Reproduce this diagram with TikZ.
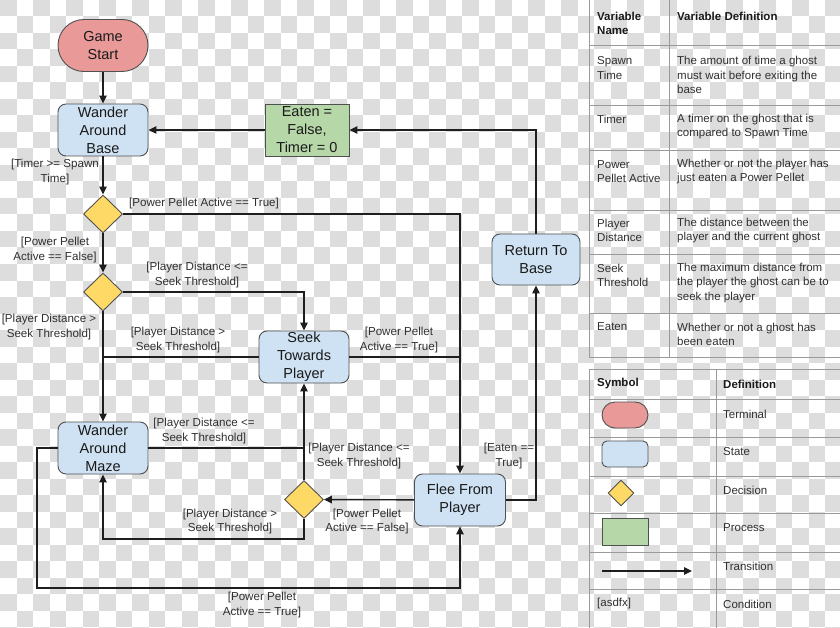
\documentclass[tikz,border=0pt]{standalone}
\usepackage{fontspec}
\setmainfont{Liberation Sans}
\usetikzlibrary{shapes.geometric,arrows.meta}
\definecolor{cbgray}{HTML}{DDDDDD}
\definecolor{termc}{HTML}{EA9999}
\definecolor{statec}{HTML}{CFE2F3}
\definecolor{decc}{HTML}{FFD966}
\definecolor{procc}{HTML}{B6D7A8}
\definecolor{bordc}{HTML}{505050}
\definecolor{linec}{HTML}{1E1E1E}
\definecolor{txt}{HTML}{1A1A1A}
\definecolor{lblc}{HTML}{303030}
\definecolor{tabl}{HTML}{9A9A9A}
\begin{document}
\begin{tikzpicture}[x=1pt,y=-1pt,
  nodebase/.style={draw=bordc, line width=0.9pt, inner sep=0pt, align=center, text=txt, font=\fontsize{14.5}{18}\selectfont},
  terminal/.style={nodebase, fill=termc, rounded corners=26pt, minimum width=90pt, minimum height=52pt},
  statebox/.style={nodebase, fill=statec, rounded corners=8pt, minimum width=90pt, minimum height=52pt},
  decision/.style={nodebase, diamond, aspect=1, fill=decc, minimum width=39pt, minimum height=38pt},
  process/.style={nodebase, fill=procc, minimum width=84pt, minimum height=52pt},
  arr/.style={draw=linec, line width=1.4pt, -{Triangle[length=8pt,width=7.5pt]}},
  ln/.style={draw=linec, line width=1.4pt},
  lbl/.style={font=\fontsize{11.6}{14.5}\selectfont, text=lblc, align=center, inner sep=0pt},
  tt/.style={font=\fontsize{11.5}{14.5}\selectfont, text=lblc, align=left, inner sep=0pt, anchor=west},
  th/.style={tt, font=\fontsize{11.5}{14.5}\selectfont\bfseries, text=txt},
  tline/.style={draw=tabl, line width=0.8pt}
]
\useasboundingbox (0,0) rectangle (840,628);
% checkerboard background
\begin{scope}
\clip (0,0) rectangle (840,628);
\fill[white] (0,0) rectangle (840,628);
\foreach \r in {0,...,38}{
  \pgfmathtruncatemacro\s{mod(\r,2)}
  \pgfmathtruncatemacro\t{\s+2}
  \foreach \c in {\s,\t,...,51}{
    \fill[cbgray] (\c*16.5,\r*16.5) rectangle ++(16.5,16.5);
  }
}
\end{scope}

% ---------- nodes ----------
\node[terminal] (start) at (103,45.5) {Game\\Start};
\node[statebox] (wbase) at (103,130) {Wander\\Around\\Base};
\node[process] (eaten) at (307,130) {Eaten =\\False,\\Timer = 0};
\node[statebox, minimum width=88pt, minimum height=51pt] (ret) at (536,259.5) {Return To\\Base};
\node[decision] (d1) at (103,214) {};
\node[decision] (d2) at (103,292) {};
\node[statebox] (seek) at (304,357) {Seek\\Towards\\Player};
\node[statebox] (wmaze) at (103,448) {Wander\\Around\\Maze};
\node[statebox, minimum width=91pt] (flee) at (460,500) {Flee From\\Player};
\node[decision] (d3) at (304,499.5) {};
\coordinate (lp) at (103,539);
\coordinate (b1) at (37,588);

% ---------- connectors ----------
\draw[arr] (start) -- (wbase);
\draw[arr] (eaten) -- (wbase);
\draw[arr] (ret.north) |- (eaten.east);
\draw[arr] (wbase) -- (d1);
\draw[arr] (d1.east) -| (flee.north);
\draw[arr] (d1) -- (d2);
\draw[arr] (d2.east) -| (seek.north);
\draw[arr] (d2) -- (wmaze);
\draw[ln] (seek.west) -- (seek.west -| d2.south);
\draw[ln] (seek.east) -- (seek.east -| flee.north);
\draw[ln] (wmaze.east) -- (wmaze.east -| d3.north);
\draw[arr] (d3) -- (seek);
\draw[arr] (d3.south) |- (lp) -- (wmaze.south);
\draw[arr] (flee) -- (d3);
\draw[arr] (wmaze.west) -| (b1) -| (flee.south);
\draw[arr] (flee.east) -| (ret.south);

% ---------- labels ----------
\node[lbl] (l1) at (55,172) {[Timer >= Spawn\\Time]};
\node[lbl] (l2) at (204,203.5) {[Power Pellet Active == True]};
\node[lbl] (l3) at (55,250) {[Power Pellet\\Active == False]};
\node[lbl] (l4) at (197,275) {[Player Distance <=\\Seek Threshold]};
\node[lbl] (l5) at (49,327) {[Player Distance >\\Seek Threshold]};
\node[lbl] (l6) at (178,340) {[Player Distance >\\Seek Threshold]};
\node[lbl] (l7) at (399,340) {[Power Pellet\\Active == True]};
\node[lbl] (l8) at (204,431) {[Player Distance <=\\Seek Threshold]};
\node[lbl] (l9) at (359,456) {[Player Distance <=\\Seek Threshold]};
\node[lbl] (l10) at (509,456) {[Eaten ==\\True]};
\node[lbl] (l11) at (230,521.5) {[Player Distance >\\Seek Threshold]};
\node[lbl] (l12) at (367,521.5) {[Power Pellet\\Active == False]};
\node[lbl] (l13) at (262,605) {[Power Pellet\\Active == True]};

% ---------- variable table ----------
\draw[tline] (589,0) -- (589,357.5) -- (840,357.5);
\draw[tline] (669,0) -- (669,357.5);
\foreach \yy in {45,105,150,210,254,313}{
  \draw[tline] (589,\yy) -- (840,\yy);
}
\node[th] (h1) at (597,23.5) {Variable\\Name};
\node[th] (h2) at (677,16) {Variable Definition};
\node[tt] (n1) at (597,68) {Spawn\\Time};
\node[tt] (e1) at (677,75) {The amount of time a ghost\\must wait before exiting the\\base};
\node[tt] (n2) at (597,119) {Timer};
\node[tt] (e2) at (677,126.5) {A timer on the ghost that is\\compared to Spawn Time};
\node[tt] (n3) at (597,171.5) {Power\\Pellet Active};
\node[tt] (e3) at (677,171.5) {Whether or not the player has\\just eaten a Power Pellet};
\node[tt] (n4) at (597,230.5) {Player\\Distance};
\node[tt] (e4) at (677,230.5) {The distance between the\\player and the current ghost};
\node[tt] (n5) at (597,275.5) {Seek\\Threshold};
\node[tt] (e5) at (677,283) {The maximum distance from\\the player the ghost can be to\\seek the player};
\node[tt] (n6) at (597,327) {Eaten};
\node[tt] (e6) at (677,334.5) {Whether or not a ghost has\\been eaten};

% ---------- legend table ----------
\draw[tline] (840,369) -- (589,369) -- (589,628);
\draw[tline] (716,369) -- (716,628);
\foreach \yy in {399,437,476,513,552,589.5}{
  \draw[tline] (589,\yy) -- (840,\yy);
}
\node[th] (h3) at (597,384) {Symbol};
\node[th] (h4) at (723,384) {Definition};
\node[terminal, minimum width=46pt, minimum height=26pt, rounded corners=13pt] (s1) at (625,415) {};
\node[tt] (g1) at (723,414) {Terminal};
\node[statebox, minimum width=46pt, minimum height=26pt, rounded corners=5pt] (s2) at (625,454) {};
\node[tt] (g2) at (723,452) {State};
\node[decision, minimum width=26pt, minimum height=26pt] (s3) at (621,493) {};
\node[tt] (g3) at (723,490) {Decision};
\node[process, minimum width=46pt, minimum height=27pt] (s4) at (625,531.5) {};
\node[tt] (g4) at (723,528) {Process};
\coordinate (s5a) at (602,571);
\coordinate (s5b) at (692,571);
\draw[arr] (s5a) -- (s5b);
\node[tt] (g5) at (723,566) {Transition};
\node[tt] (s6) at (597,604) {[asdfx]};
\node[tt] (g6) at (723,604) {Condition};
\end{tikzpicture}
\end{document}
